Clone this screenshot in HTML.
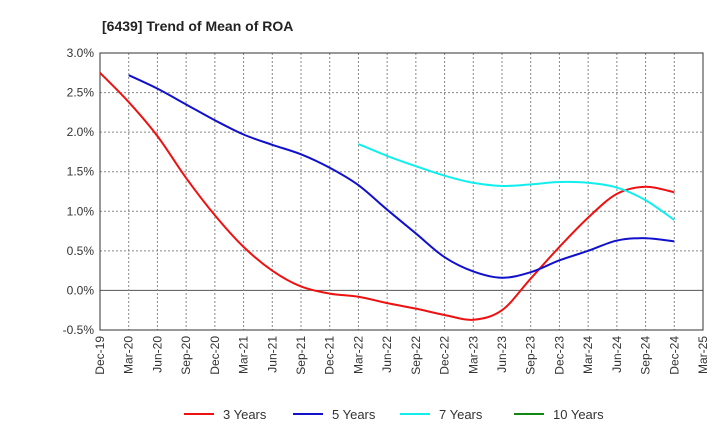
<!DOCTYPE html>
<html><head><meta charset="utf-8"><style>
body{margin:0;background:#fff;font-family:"Liberation Sans",sans-serif;}
</style></head><body>
<svg id="chart" width="720" height="440" xmlns="http://www.w3.org/2000/svg">
<text x="102" y="31" font-size="14" font-weight="bold" fill="#222">[6439]  Trend of Mean of ROA</text>
<g id="grid"></g><g id="axes"></g><g id="series"></g><g id="legend"></g>
</svg>
<script>
const categories=["Dec-19","Mar-20","Jun-20","Sep-20","Dec-20","Mar-21","Jun-21","Sep-21","Dec-21","Mar-22","Jun-22","Sep-22","Dec-22","Mar-23","Jun-23","Sep-23","Dec-23","Mar-24","Jun-24","Sep-24","Dec-24","Mar-25"];
const yTicks=[3.0,2.5,2.0,1.5,1.0,0.5,0.0,-0.5];
const roa3=[2.75,2.38,1.95,1.42,0.95,0.55,0.25,0.05,-0.04,-0.08,-0.16,-0.23,-0.31,-0.37,-0.25,0.15,0.55,0.92,1.22,1.31,1.24];
const roa5=[null,2.72,2.55,2.35,2.15,1.97,1.84,1.72,1.55,1.33,1.02,0.72,0.42,0.24,0.16,0.23,0.38,0.50,0.63,0.66,0.62];
const roa7=[null,null,null,null,null,null,null,null,null,1.85,1.70,1.57,1.45,1.36,1.32,1.34,1.37,1.36,1.30,1.14,0.89];
const roa10=[];
const seriesNames=["3 Years","5 Years","7 Years","10 Years"];
const seriesColors=["#ee1111","#1111cc","#11eeee","#118811"];
const L=100,R=703,T=53,B=330;
const x=i=>L+(R-L)*i/(categories.length-1);
const y=v=>T+(3.0-v)/3.5*(B-T);
const NS="http://www.w3.org/2000/svg";
function mk(tag,attrs,parent){const e=document.createElementNS(NS,tag);for(const k in attrs)e.setAttribute(k,attrs[k]);parent.appendChild(e);return e;}
const grid=document.getElementById('grid'),axes=document.getElementById('axes'),ser=document.getElementById('series'),leg=document.getElementById('legend');
yTicks.forEach(v=>{
 const l=mk('line',{x1:L,x2:R,y1:y(v),y2:y(v),stroke:v===0?'#555':'#888','stroke-width':1,'stroke-dasharray':v===0?'':'2,2'},grid);
 
 
 const t=mk('text',{x:L-6,y:y(v)+4,'text-anchor':'end','font-size':12,fill:'#333'},axes);
 
 
 t.textContent=v.toFixed(1)+'%';
});
categories.forEach((c,i)=>{
 if(i>0&&i<categories.length-1){const l=mk('line',{x1:x(i),x2:x(i),y1:T,y2:B,stroke:'#888','stroke-dasharray':'2,2'},grid);
 
 }
 const t=mk('text',{transform:`translate(${x(i)+4},${B+6}) rotate(-90)`,'text-anchor':'end','font-size':12,fill:'#333'},axes);
 
 
 t.textContent=c;
});
const frame=mk('rect',{x:L,y:T,width:R-L,height:B-T,fill:'none',stroke:'#333'},axes);


function path(arr){
 const p=[];arr.forEach((v,i)=>{if(v!=null)p.push([x(i),y(v)]);});
 if(p.length<2)return '';
 let d=`M${p[0][0]},${p[0][1]}`;
 for(let i=0;i<p.length-1;i++){const p0=p[i-1]||p[i],p1=p[i],p2=p[i+1],p3=p[i+2]||p2;
  d+=` C${p1[0]+(p2[0]-p0[0])/6},${p1[1]+(p2[1]-p0[1])/6} ${p2[0]-(p3[0]-p1[0])/6},${p2[1]-(p3[1]-p1[1])/6} ${p2[0]},${p2[1]}`;}
 return d;
}
[roa3,roa5,roa7,roa10].forEach((arr,k)=>{
 const d=path(arr);if(!d)return;
 const e=mk('path',{d:d,fill:'none',stroke:seriesColors[k],'stroke-width':2},ser);
 
 
});
const lx=[184,293,400,514];
seriesNames.forEach((n,k)=>{
 const g=mk('g',{},leg);
 
 
 mk('line',{x1:lx[k],x2:lx[k]+30,y1:414,y2:414,stroke:seriesColors[k],'stroke-width':2},g);
 const t=mk('text',{x:lx[k]+39,y:419,'font-size':13,fill:'#333'},g);t.textContent=n;
});
</script>
</body></html>
